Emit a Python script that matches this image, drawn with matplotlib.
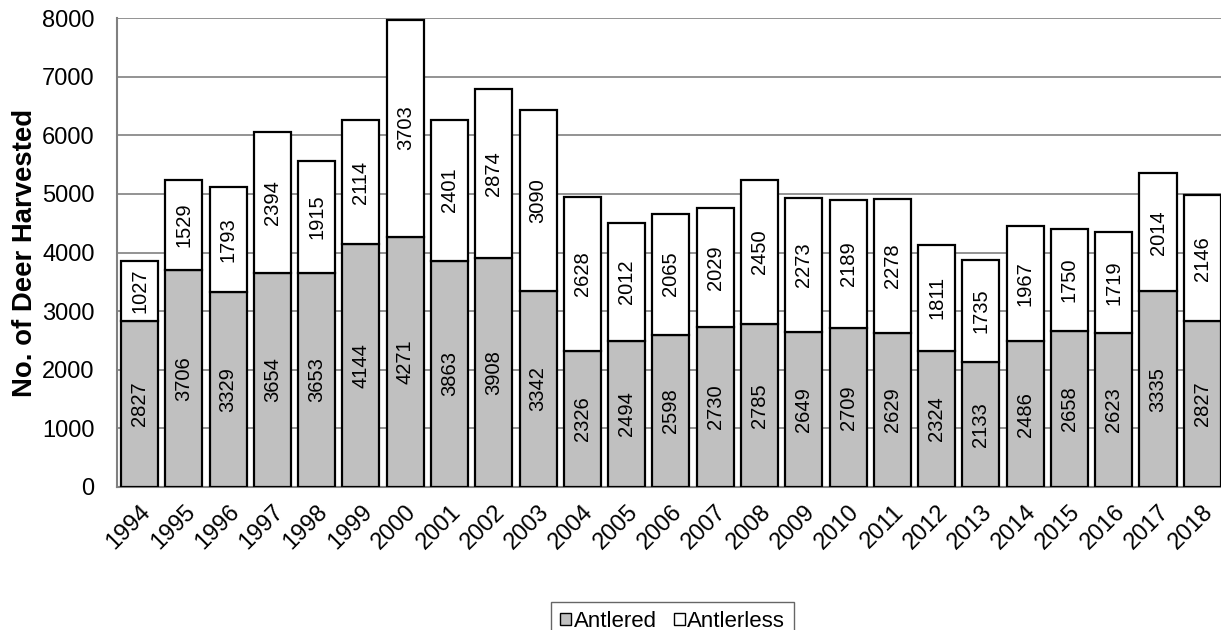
import matplotlib
matplotlib.use("Agg")
import matplotlib.pyplot as plt
import numpy as np

years = [str(y) for y in range(1994, 2019)]
antlered = [2827, 3706, 3329, 3654, 3653, 4144, 4271, 3863, 3908, 3342, 2326, 2494, 2598,
            2730, 2785, 2649, 2709, 2629, 2324, 2133, 2486, 2658, 2623, 3335, 2827]
antlerless = [1027, 1529, 1793, 2394, 1915, 2114, 3703, 2401, 2874, 3090, 2628, 2012, 2065,
              2029, 2450, 2273, 2189, 2278, 1811, 1735, 1967, 1750, 1719, 2014, 2146]

plt.rcParams['font.family'] = ['Liberation Sans', 'DejaVu Sans']

fig = plt.figure(figsize=(12.21, 6.3), dpi=100)
ax = fig.add_axes([0.0962, 0.227, 0.9066, 0.7444])

x = np.arange(len(years))
w = 0.836
b1 = ax.bar(x, antlered, w, color='#c0c0c0', edgecolor='black', linewidth=1.6, label='Antlered', zorder=3)
b2 = ax.bar(x, antlerless, w, bottom=antlered, color='white', edgecolor='black', linewidth=1.6,
            label='Antlerless', zorder=3)

for i in range(len(years)):
    ax.text(x[i], antlered[i] / 2, str(antlered[i]), rotation=90, ha='center', va='center',
            fontsize=14.5, zorder=4)
    ax.text(x[i], antlered[i] + antlerless[i] / 2, str(antlerless[i]), rotation=90,
            ha='center', va='center', fontsize=14.5, zorder=4)

ax.set_xlim(-0.5, len(years) - 0.5)
ax.set_ylim(0, 8000)
ax.set_yticks(range(0, 8001, 1000))
ax.yaxis.grid(True, color='#808080', linewidth=1.2, zorder=0)
ax.set_axisbelow(True)
for s in ['top', 'right']:
    ax.spines[s].set_visible(False)
ax.spines['left'].set_color('#808080')
ax.spines['left'].set_linewidth(1.5)
ax.spines['bottom'].set_color('#808080')
ax.spines['bottom'].set_linewidth(1.5)
ax.tick_params(axis='y', length=0, labelsize=17, pad=16.5)
ax.tick_params(axis='x', length=0, labelsize=17, pad=10)
ax.set_xticks(x)
ax.set_xticklabels(years, rotation=45, ha='right', rotation_mode='anchor')
ax.set_ylabel('No. of Deer Harvested', fontsize=19.8, fontweight='bold')
ax.yaxis.set_label_coords(-0.0717, 0.5)

leg = fig.legend(handles=[b1, b2], labels=['Antlered', 'Antlerless'], loc='upper center',
                 bbox_to_anchor=(0.551, 1 - 591 / 630), ncol=2, frameon=True, fancybox=False,
                 fontsize=16, handlelength=0.5, handleheight=0.5, handletextpad=0.12,
                 columnspacing=0.75, borderpad=0.4)
leg.get_frame().set_edgecolor('#404040')
leg.get_frame().set_linewidth(1.0)
for h in leg.legend_handles:
    h.set_linewidth(1.0)

fig.savefig('out.png', dpi=100)
